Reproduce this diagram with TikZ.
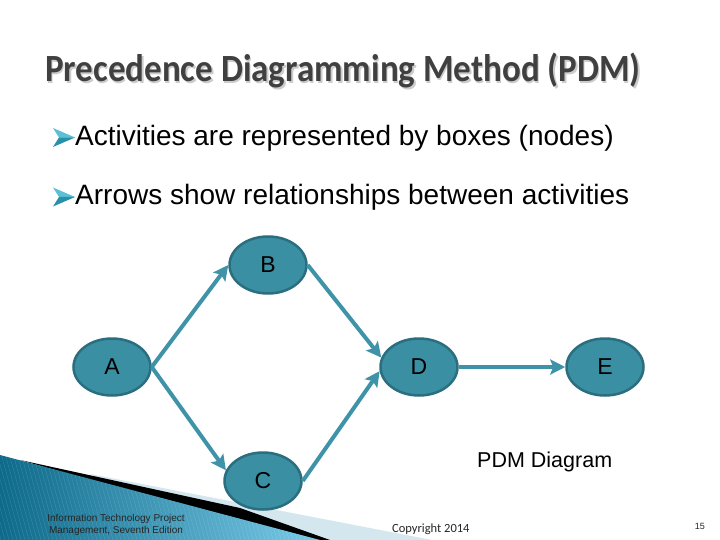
\documentclass[tikz,border=0pt]{standalone}
\usepackage{fontspec}
\setmainfont{Liberation Sans}
\newfontfamily\calib{Carlito}
\usetikzlibrary{shapes.geometric,arrows.meta}
\definecolor{nodefill}{HTML}{3A8FA3}
\definecolor{nodeline}{HTML}{2A6E80}
\definecolor{arrowc}{HTML}{3E93A8}
\definecolor{titlec}{HTML}{404040}
\definecolor{band}{HTML}{D4E7EF}
\definecolor{bluedark}{HTML}{0D6A8A}
\definecolor{bluemid}{HTML}{2E9CC6}
\definecolor{bluelight}{HTML}{7CCDEB}
\definecolor{bullup}{HTML}{5BC0D6}
\definecolor{bulldown}{HTML}{2A8FA8}
\begin{document}
\begin{tikzpicture}[x=1pt,y=-1pt,
  act/.style={ellipse,draw=nodeline,fill=nodefill,line width=2.5pt,minimum width=77pt,minimum height=57pt,inner sep=0pt,font=\fontsize{23}{23}\selectfont},
  conn/.style={draw=arrowc,line width=4pt,-{Stealth[length=15pt,width=15pt,inset=3pt]}},
  bulltext/.style={anchor=base west,inner sep=0pt,font=\fontsize{28}{28}\selectfont},
  foot/.style={inner sep=0pt,text=black!85}]
\useasboundingbox (0,0) rectangle (720,540);
\fill[white] (0,0) rectangle (720,540);
% bottom decoration
\fill[band] (90,474) -- (432,540) -- (200,540) -- cycle;
\fill[black] (20,460) -- (240,508) -- (330,540) -- (300,540) -- cycle;
\begin{scope}
\clip (0,455) -- (320,540) -- (0,540) -- cycle;
\shade[left color=bluedark, middle color=bluemid, right color=bluelight] (0,450) rectangle (330,540);
\foreach \i in {-40,-36,...,330} \draw[white,opacity=0.15,line width=0.4pt] (\i,450) -- (\i+25,540);
\end{scope}
% title
\node[anchor=base west,inner sep=0pt,text=gray!40] (titleshadow) at (46.5,83.5) {\calib\bfseries\fontsize{35}{35}\selectfont\scalebox{1}[1.1]{Precedence Diagramming Method (PDM)}};
\node[anchor=base west,inner sep=0pt,text=titlec] (title) at (45,82) {\calib\bfseries\fontsize{35}{35}\selectfont\scalebox{1}[1.1]{Precedence Diagramming Method (PDM)}};
% bullet marks
\foreach \y in {137.5,197} {
  \fill[bullup] (53,\y-9.5) -- (75,\y) -- (59,\y) -- cycle;
  \fill[bulldown] (53,\y+9.5) -- (75,\y) -- (59,\y) -- cycle;
}
% bullets
\node[bulltext] (b1) at (75,145.5) {Activities are represented by boxes (nodes)};
\node[bulltext] (b2) at (75,205) {Arrows show relationships between activities};
% nodes
\node[act] (B) at (268,265) {B};
\node[act] (A) at (112,367) {A};
\node[act] (D) at (419,367) {D};
\node[act] (E) at (605,367) {E};
\node[act] (C) at (263,481) {C};
% connectors
\draw[conn] (A.east) -- (B.west);
\draw[conn] (A.east) -- (C.164);
\draw[conn] (B.east) -- (D.166);
\draw[conn] (C.east) -- (D.186);
\draw[conn] (D.east) -- (E.west);
% labels
\node[anchor=base west,inner sep=0pt,font=\fontsize{21.5}{21.5}\selectfont] (pdm) at (477,467) {PDM Diagram};
\node[foot,align=center,font=\fontsize{10}{12}\selectfont] (book) at (116,525) {Information Technology Project\\Management, Seventh Edition};
\node[foot,anchor=base west,font=\calib\fontsize{12.5}{12.5}\selectfont] (copy) at (392,532) {Copyright 2014};
\node[foot,anchor=base east,font=\fontsize{9}{9}\selectfont] (page) at (705,529) {15};
\end{tikzpicture}
\end{document}
